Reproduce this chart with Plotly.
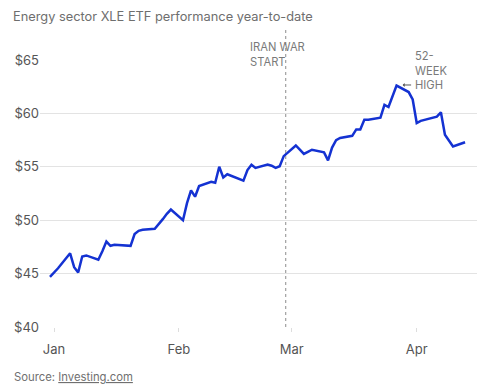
import plotly.graph_objects as go

dates = ["2025-12-31","2026-01-02","2026-01-05","2026-01-06","2026-01-07","2026-01-08","2026-01-09",
         "2026-01-12","2026-01-13","2026-01-14","2026-01-15","2026-01-16","2026-01-20","2026-01-21",
         "2026-01-22","2026-01-23","2026-01-26","2026-01-27","2026-01-28","2026-01-29","2026-01-30",
         "2026-02-02","2026-02-03","2026-02-04","2026-02-05","2026-02-06","2026-02-09","2026-02-10",
         "2026-02-11","2026-02-12","2026-02-13","2026-02-17","2026-02-18","2026-02-19","2026-02-20",
         "2026-02-23","2026-02-24","2026-02-25","2026-02-26","2026-02-27","2026-03-02","2026-03-03",
         "2026-03-04","2026-03-05","2026-03-06","2026-03-09","2026-03-10","2026-03-11","2026-03-12",
         "2026-03-13","2026-03-16","2026-03-17","2026-03-18","2026-03-19","2026-03-20","2026-03-23",
         "2026-03-24","2026-03-25","2026-03-26","2026-03-27","2026-03-30","2026-03-31","2026-04-01",
         "2026-04-02","2026-04-06","2026-04-07","2026-04-08","2026-04-09","2026-04-10","2026-04-13"]
prices = [44.7,45.5,46.9,45.6,45.1,46.6,46.7,
          46.3,47.1,48.0,47.6,47.7,47.6,48.7,
          49.0,49.1,49.2,49.6,50.1,50.6,51.0,
          50.0,51.6,52.8,52.2,53.2,53.6,53.5,
          55.0,54.0,54.3,53.7,54.7,55.2,54.9,
          55.2,55.1,54.9,55.05,56.0,57.0,56.6,
          56.2,56.4,56.6,56.35,55.6,56.8,57.5,
          57.7,57.9,58.5,58.5,59.4,59.4,59.6,
          60.8,60.6,61.6,62.6,62.0,61.3,59.1,
          59.3,59.7,60.1,58.0,57.5,56.9,57.3]

y_ticks = [40, 45, 50, 55, 60, 65]
y_tick_labels = ["$40", "$45", "$50", "$55", "$60", "$65"]
x_ticks = ["2026-01-01", "2026-02-01", "2026-03-01", "2026-04-01"]
x_tick_labels = ["Jan", "Feb", "Mar", "Apr"]

title_text = "Energy sector XLE ETF performance year-to-date"
war_label = "IRAN WAR<br>START"
war_date = "2026-02-27T12:00"
high_label = "52-<br>WEEK<br>HIGH"
source_text = "Source: <u>Investing.com</u>"

FONT = "Inter, Roboto, sans-serif"

# The page body has an 8px margin, so the figure is sized and offset to compensate.
fig = go.Figure()
fig.add_trace(go.Scatter(x=dates, y=prices, mode="lines",
                         line=dict(color="#1432d2", width=2.5), hoverinfo="skip"))

fig.add_shape(type="line", xref="x", yref="paper", x0=war_date, x1=war_date, y0=0, y1=1.12,
              line=dict(color="#8c8c8c", width=1, dash="dot"))

fig.add_annotation(xref="paper", yref="paper", x=-0.064, y=1.193, xanchor="left", yanchor="top",
                   text=title_text, showarrow=False, borderpad=0,
                   font=dict(family=FONT, size=12.8, color="#6e6e6e"))
fig.add_annotation(xref="x", yref="paper", x=war_date, xshift=-38, y=1.021, xanchor="left", yanchor="middle",
                   text=war_label, showarrow=False, align="left",
                   font=dict(family=FONT, size=11.2, color="#7a7a7a"))
fig.add_annotation(xref="x", yref="y", x="2026-03-31T00:00", y=64.05, xanchor="left", yanchor="middle",
                   text=high_label, showarrow=False, align="left",
                   font=dict(family=FONT, size=11.2, color="#7a7a7a"))
fig.add_annotation(xref="x", yref="y", x="2026-03-28T12:00", y=62.66, ax=10, ay=0,
                   text="", showarrow=True, arrowhead=1, arrowsize=0.7, arrowwidth=1, arrowcolor="#555555")
fig.add_annotation(xref="paper", yref="paper", x=-0.064, y=-0.187, xanchor="left", yanchor="middle",
                   text=source_text, showarrow=False, font=dict(family=FONT, size=11.3, color="#707070"))

fig.update_layout(
    width=479, height=379,
    margin=dict(l=32, r=10, t=52, b=60),
    paper_bgcolor="white", plot_bgcolor="white",
    showlegend=False,
    font=dict(family=FONT, size=13, color="#555555"),
    xaxis=dict(range=["2025-12-28T12:37", "2026-04-15T23:00"], tickvals=x_ticks, ticktext=x_tick_labels,
               showgrid=False, zeroline=False, showline=False, ticks="outside", ticklen=4,
               tickcolor="#dddddd", tickfont=dict(family=FONT, size=13, color="#555555"),
               ticklabelstandoff=6, automargin=False),
    yaxis=dict(range=[40, 65], tickvals=y_ticks, ticktext=y_tick_labels, showgrid=True, gridcolor="#e3e3e3",
               gridwidth=1, zeroline=False, showline=False, ticks="", automargin=False,
               tickfont=dict(family=FONT, size=13, color="#555555")),
)

fig.write_html("out.html")
